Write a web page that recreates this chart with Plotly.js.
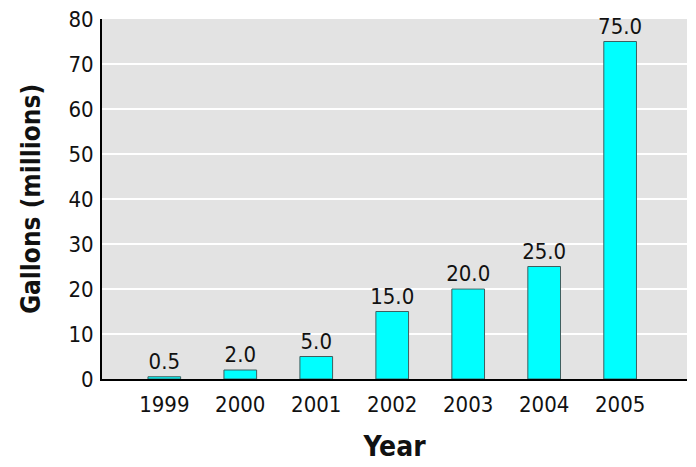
<!DOCTYPE html>
<html>
<head>
<meta charset="utf-8">
<script src="https://cdn.plot.ly/plotly-3.0.1.min.js"></script>
<style>html,body{margin:0;padding:0;background:#fff;}#chart{width:696px;height:467px;}</style>
</head>
<body>
<div id="chart"></div>
<script>
const years = ["1999", "2000", "2001", "2002", "2003", "2004", "2005"];
const gallons = [0.5, 2.0, 5.0, 15.0, 20.0, 25.0, 75.0];
const yTicks = [0, 10, 20, 30, 40, 50, 60, 70, 80];

const FONT = '"Liberation Sans Narrow", "DejaVu Sans Condensed", "Arial Narrow", sans-serif';

const trace = {
  type: 'bar',
  x: years,
  y: gallons,
  width: 0.43,
  marker: {color: '#00ffff', line: {color: '#3f5f5f', width: 1}},
  text: gallons.map(v => v.toFixed(1)),
  textposition: 'outside',
  constraintext: 'none',
  cliponaxis: false,
  textfont: {family: FONT, size: 22, color: '#111'},
  hoverinfo: 'none'
};

const layout = {
  width: 696, height: 467,
  margin: {l: 102, r: 9, t: 19, b: 88},
  paper_bgcolor: '#ffffff',
  plot_bgcolor: '#e3e3e3',
  showlegend: false,
  font: {family: FONT, size: 22, color: '#111'},
  xaxis: {
    type: 'category',
    range: [-0.82, 6.88],
    showgrid: false,
    showline: true, linecolor: '#000', linewidth: 2,
    ticks: 'outside', ticklen: 5, tickcolor: 'rgba(0,0,0,0)',
    tickfont: {family: FONT, size: 22, color: '#111'},
    title: {text: '<b>Year</b>', font: {family: FONT, size: 28, color: '#111'}, standoff: 20}
  },
  yaxis: {
    range: [0, 80],
    tickvals: yTicks,
    ticktext: yTicks.map(String),
    showgrid: true, gridcolor: '#ffffff', gridwidth: 2,
    zeroline: false,
    showline: true, linecolor: '#000', linewidth: 2,
    ticks: 'outside', ticklen: 2, tickcolor: 'rgba(0,0,0,0)',
    tickfont: {family: FONT, size: 22, color: '#111'},
    title: {text: '<b>Gallons (millions)</b>', font: {family: FONT, size: 26, color: '#111'}, standoff: 20}
  },
  bargap: 0.5
};

Plotly.newPlot('chart', [trace], layout, {displayModeBar: false, staticPlot: true});
</script>
</body>
</html>
